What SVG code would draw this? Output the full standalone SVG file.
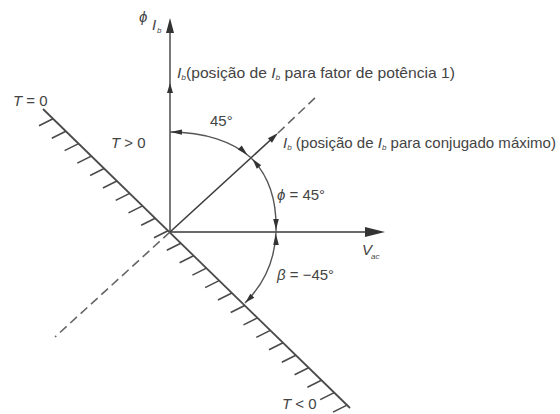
<svg xmlns="http://www.w3.org/2000/svg" width="560" height="414" viewBox="0 0 560 414">
<style>
  text { font-family: "Liberation Sans", Arial, sans-serif; font-size: 15px; fill: #444; }
  .it { font-style: italic; }
  .sub { font-size: 8px; font-style: italic; }
  .axis { stroke: #6a6a6a; stroke-width: 1.8; fill: none; }
  .vec { stroke: #3c3c3c; stroke-width: 1.6; fill: none; }
  .dash { stroke: #666; stroke-width: 1.6; fill: none; stroke-dasharray: 9 5; }
  .arc { stroke: #555; stroke-width: 1.4; fill: none; }
  .limit { stroke: #4a4a4a; stroke-width: 1.8; fill: none; }
  .hatch { stroke: #4a4a4a; stroke-width: 1.6; }
  .head { fill: #333; stroke: none; }
</style>
<rect width="560" height="414" fill="#fff"/>

<g id="axes">
  <line class="axis" x1="170" y1="232" x2="170" y2="30"/>
  <polygon class="head" points="170,18 166,33 174,33"/>
  <line class="axis" x1="170" y1="232" x2="368" y2="232"/>
  <polygon class="head" points="385,232 365,227 365,237"/>
</g>

<g id="torque-limit">
  <line class="limit" x1="43" y1="109" x2="350" y2="408"/>
  <g id="hatches" class="hatch">
    <line x1="53" y1="118.7" x2="39" y2="125.7"/>
    <line x1="65.8" y1="131.2" x2="51.8" y2="138.2"/>
    <line x1="78.6" y1="143.6" x2="64.6" y2="150.6"/>
    <line x1="91.3" y1="156.1" x2="77.3" y2="163.1"/>
    <line x1="104.1" y1="168.5" x2="90.1" y2="175.5"/>
    <line x1="116.9" y1="181" x2="102.9" y2="188"/>
    <line x1="129.7" y1="193.4" x2="115.7" y2="200.4"/>
    <line x1="142.5" y1="205.9" x2="128.5" y2="212.9"/>
    <line x1="155.2" y1="218.3" x2="141.2" y2="225.3"/>
    <line x1="168" y1="230.8" x2="154" y2="237.8"/>
    <line x1="180.8" y1="243.2" x2="166.8" y2="250.2"/>
    <line x1="193.6" y1="255.7" x2="179.6" y2="262.7"/>
    <line x1="206.4" y1="268.1" x2="192.4" y2="275.1"/>
    <line x1="219.1" y1="280.6" x2="205.1" y2="287.6"/>
    <line x1="231.9" y1="293" x2="217.9" y2="300"/>
    <line x1="244.7" y1="305.5" x2="230.7" y2="312.5"/>
    <line x1="257.5" y1="317.9" x2="243.5" y2="324.9"/>
    <line x1="270.3" y1="330.4" x2="256.3" y2="337.4"/>
    <line x1="283" y1="342.8" x2="269" y2="349.8"/>
    <line x1="295.8" y1="355.3" x2="281.8" y2="362.3"/>
    <line x1="308.6" y1="367.7" x2="294.6" y2="374.7"/>
    <line x1="321.4" y1="380.2" x2="307.4" y2="387.2"/>
    <line x1="334.2" y1="392.6" x2="320.2" y2="399.6"/>
    <line x1="347" y1="405.1" x2="333" y2="412.1"/>
  </g>
</g>

<g id="vectors">
  <line class="vec" x1="170" y1="232" x2="271" y2="139.5"/>
  <polygon class="head" points="278,133 271.96,142.7 267.9,138.3"/>
  <line class="dash" x1="278" y1="133" x2="318" y2="95"/>
  <line class="dash" x1="170" y1="232" x2="55" y2="337"/>
  <polygon class="head" points="170,83 167,93 173,93"/>
</g>

<g id="angle-arcs">
  <path class="arc" d="M170,132 C205,132 233,142 250,157 C268,174 277,200 276,232 C275,260 264,284 245,303"/>
  <polygon class="head" points="170.5,132 182,129.4 182,134.8"/>
  <polygon class="head" points="247.5,155 237.9,149.6 241.7,145.6"/>
  <polygon class="head" points="252.5,159 261.2,165.3 256.8,168.7"/>
  <polygon class="head" points="276,230 273.2,219 278.8,219"/>
  <polygon class="head" points="276,234 273.2,245 278.8,245"/>
  <polygon class="head" points="245.5,302.5 254.3,297.7 250.3,293.7"/>
</g>

<g id="labels">
  <text x="139" y="22" class="it">ϕ</text>
  <text x="152" y="30" class="it">I</text>
  <text x="157" y="33" class="sub">b</text>

  <text x="177" y="78" textLength="278" lengthAdjust="spacingAndGlyphs"><tspan class="it">I</tspan><tspan class="sub" dy="2">b</tspan><tspan dy="-2">(posição de </tspan><tspan class="it">I</tspan><tspan class="sub" dy="2">b</tspan><tspan dy="-2">  para fator de potência 1)</tspan></text>

  <text x="283" y="148" textLength="273" lengthAdjust="spacingAndGlyphs"><tspan class="it">I</tspan><tspan class="sub" dy="2">b</tspan><tspan dy="-2"> (posição de </tspan><tspan class="it">I</tspan><tspan class="sub" dy="2">b</tspan><tspan dy="-2"> para conjugado máximo)</tspan></text>

  <text x="13" y="106"><tspan class="it">T</tspan> = 0</text>
  <text x="111" y="148"><tspan class="it">T</tspan> &gt; 0</text>
  <text x="210" y="126">45°</text>
  <text x="277" y="200"><tspan class="it">ϕ</tspan> = 45°</text>
  <text x="277" y="280"><tspan class="it">β</tspan> = −45°</text>
  <text x="282" y="409"><tspan class="it">T</tspan> &lt; 0</text>
  <text x="362" y="255" class="it">V</text>
  <text x="371" y="259" class="sub">ac</text>
</g>
</svg>
